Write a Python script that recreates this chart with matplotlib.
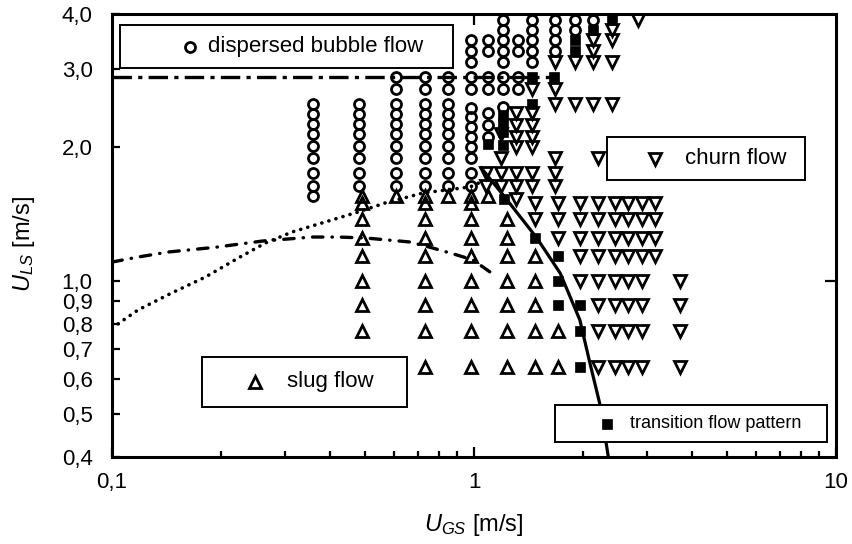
"""Flow pattern map: U_LS versus U_GS with regime transition lines."""
import matplotlib
matplotlib.use("Agg")
import matplotlib.pyplot as plt
from matplotlib.patches import Rectangle
from matplotlib.ticker import FixedLocator, NullFormatter, NullLocator

plt.rcParams["font.family"] = ["Liberation Sans", "DejaVu Sans"]
plt.rcParams["mathtext.fontset"] = "custom"
plt.rcParams["mathtext.rm"] = "Liberation Sans"
plt.rcParams["mathtext.it"] = "Liberation Sans:italic"
plt.rcParams["lines.scale_dashes"] = False

# measured points, grouped by gas velocity U_GS -> list of U_LS [m/s]
BUBBLE = {
    0.36: [2.50, 2.38, 2.26, 2.14, 2.01, 1.89, 1.75, 1.64, 1.55],
    0.48: [2.50, 2.38, 2.26, 2.14, 2.01, 1.89, 1.75, 1.64],
    0.61: [2.88, 2.71, 2.50, 2.38, 2.26, 2.14, 2.01, 1.89, 1.75, 1.64],
    0.73: [2.88, 2.71, 2.50, 2.38, 2.26, 2.14, 2.01, 1.89, 1.75, 1.64],
    0.85: [2.88, 2.71, 2.50, 2.38, 2.26, 2.14, 2.01, 1.89, 1.75, 1.64],
    0.98: [3.49, 3.30, 3.12, 2.88, 2.71, 2.46, 2.34, 2.22, 2.11, 2.00, 1.89, 1.75, 1.64],
    1.09: [3.49, 3.30, 2.88, 2.71, 2.39, 2.25, 2.11],
    1.20: [3.88, 3.68, 3.49, 3.30, 3.12, 2.88, 2.71, 2.47],
    1.32: [3.49, 3.30, 2.88, 2.71],
    1.45: [3.88, 3.68, 3.49, 3.30, 3.12],
    1.67: [3.88, 3.68, 3.49, 3.30],
    1.90: [3.88, 3.68],
    2.13: [3.88],
}

SLUG = {
    0.49: [1.55, 1.50, 1.38, 1.25, 1.14, 1.00, 0.88, 0.77],
    0.61: [1.55],
    0.73: [1.55, 1.50, 1.38, 1.25, 1.14, 1.00, 0.88, 0.77, 0.64],
    0.85: [1.55],
    0.98: [1.55, 1.50, 1.38, 1.25, 1.14, 1.00, 0.88, 0.77, 0.64],
    1.09: [1.55],
    1.23: [1.38, 1.25, 1.14, 1.00, 0.88, 0.77, 0.64],
    1.47: [1.14, 1.00, 0.88, 0.77, 0.64],
    1.71: [0.77, 0.64],
}

CHURN = {
    1.08: [1.75, 1.64],
    1.19: [2.14, 1.89, 1.75, 1.64],
    1.31: [2.39, 2.25, 2.11, 2.00, 1.75, 1.64, 1.53],
    1.45: [2.71, 2.39, 2.25, 2.11, 2.00, 1.75, 1.64],
    1.47: [1.50, 1.38],
    1.67: [3.12, 2.71, 2.50, 1.89, 1.75, 1.64],
    1.71: [1.50, 1.38, 1.25],
    1.90: [3.12, 2.50],
    1.96: [1.50, 1.38, 1.25, 1.14, 1.00],
    2.13: [3.49, 3.30, 3.12, 2.50],
    2.20: [1.89, 1.50, 1.38, 1.25, 1.14, 1.00, 0.88, 0.77, 0.64],
    2.40: [3.68, 3.49, 3.12, 2.50],
    2.45: [1.50, 1.38, 1.25, 1.14, 1.00, 0.88, 0.77, 0.64],
    2.66: [1.50, 1.38, 1.25, 1.14, 1.00, 0.88, 0.77, 0.64],
    2.84: [3.88],
    2.91: [1.50, 1.38, 1.25, 1.14, 1.00, 0.88, 0.77, 0.64],
    3.16: [1.50, 1.38, 1.25, 1.14],
    3.71: [1.00, 0.88, 0.77, 0.64],
}

TRANSITION = {
    1.09: [2.04],
    1.20: [2.37, 2.27, 2.17, 2.03],
    1.21: [1.53],
    1.45: [2.88, 2.50],
    1.66: [2.88],
    1.47: [1.25],
    1.71: [1.14, 1.00, 0.88],
    1.96: [0.88, 0.77, 0.64],
    1.90: [3.49, 3.30],
    2.13: [3.68],
    2.40: [3.88],
}

# transition boundaries
BUBBLE_LIMIT_X = [0.1, 1.68]
BUBBLE_LIMIT_Y = [2.88, 2.88]

CHURN_X = [1.04, 1.22, 1.49, 1.73, 1.96, 2.09, 2.23, 2.35]
CHURN_Y = [1.81, 1.54, 1.25, 1.04, 0.816, 0.652, 0.524, 0.40]

DOTTED_X = [0.1, 0.118, 0.146, 0.181, 0.223, 0.265, 0.314, 0.388, 0.478, 0.568, 0.723, 0.975, 1.06]
DOTTED_Y = [0.782, 0.859, 0.938, 1.019, 1.125, 1.216, 1.288, 1.357, 1.429, 1.498, 1.578, 1.628, 1.68]

DASHDOT_X = [0.1, 0.118, 0.143, 0.193, 0.26, 0.357, 0.421, 0.5, 0.666, 0.77, 0.898, 0.994, 1.157]
DASHDOT_Y = [1.102, 1.131, 1.161, 1.19, 1.229, 1.255, 1.255, 1.249, 1.223, 1.185, 1.143, 1.114, 1.02]

Y_TICKS = [0.4, 0.5, 0.6, 0.7, 0.8, 0.9, 1.0, 2.0, 3.0, 4.0]
Y_LABELS = ["0,4", "0,5", "0,6", "0,7", "0,8", "0,9", "1,0", "2,0", "3,0", "4,0"]
X_TICKS = [0.1, 1, 10]
X_LABELS = ["0,1", "1", "10"]
X_MINOR = [0.2, 0.3, 0.4, 0.5, 0.6, 0.7, 0.8, 0.9, 2, 3, 4, 5, 6, 7, 8, 9]

CIRCLE = dict(marker="o", ms=7.2, mfc="none", mec="k", mew=2.0)
UP = dict(marker="^", ms=8.0, mfc="none", mec="k", mew=2.0)
DOWN = dict(marker="v", ms=8.0, mfc="none", mec="k", mew=2.0)
SQUARE = dict(marker="s", ms=7.2, mfc="k", mec="k", mew=0.5)


def plot_columns(ax, columns, style):
    xs = [x for x, ys in columns.items() for _ in ys]
    ys = [y for col in columns.values() for y in col]
    ax.plot(xs, ys, linestyle="none", zorder=3, **style)


def legend_box(ax, x0, y0, x1, y1, mx, tx, label, style, size):
    ax.add_patch(Rectangle((x0, y0), x1 - x0, y1 - y0, transform=ax.transAxes,
                           fc="white", ec="black", lw=1.4, zorder=5))
    yc = 0.5 * (y0 + y1)
    ax.plot([mx], [yc], transform=ax.transAxes, linestyle="none", zorder=6,
            clip_on=False, **style)
    ax.text(tx, yc, label, transform=ax.transAxes, va="center", ha="left",
            fontsize=size, zorder=6)


fig = plt.figure(figsize=(8.53, 5.44), dpi=100)
ax = fig.add_axes([0.1313, 0.1599, 0.8488, 0.8143])
ax.set_xscale("log")
ax.set_yscale("log")
ax.set_xlim(0.1, 10)
ax.set_ylim(0.4, 4.0)

ax.plot(BUBBLE_LIMIT_X, BUBBLE_LIMIT_Y, color="k", lw=2.4,
        dashes=(14, 4.5, 3, 4.5), zorder=2)
ax.plot(CHURN_X, CHURN_Y, color="k", lw=2.3, solid_capstyle="butt", zorder=2)
ax.plot(DOTTED_X, DOTTED_Y, color="k", lw=2.6, dashes=(0.1, 5.2),
        dash_capstyle="round", zorder=2)
ax.plot(DASHDOT_X, DASHDOT_Y, color="k", lw=2.4, dashes=(7.5, 6.5, 0.3, 6.5),
        dash_capstyle="round", zorder=2)

plot_columns(ax, BUBBLE, CIRCLE)
plot_columns(ax, SLUG, UP)
plot_columns(ax, CHURN, DOWN)
plot_columns(ax, TRANSITION, SQUARE)

legend_box(ax, 0.011, 0.878, 0.471, 0.975, 0.108, 0.132, "dispersed bubble flow", CIRCLE, 16)
legend_box(ax, 0.684, 0.625, 0.957, 0.722, 0.750, 0.791, "churn flow", DOWN, 16)
legend_box(ax, 0.124, 0.113, 0.408, 0.226, 0.198, 0.242, "slug flow", UP, 16)
legend_box(ax, 0.612, 0.034, 0.988, 0.117, 0.684, 0.716, "transition flow pattern", SQUARE, 13)

# axes frame and ticks
for sp in ax.spines.values():
    sp.set_linewidth(2.2)
ax.set_yticks(Y_TICKS, Y_LABELS)
ax.yaxis.set_minor_locator(NullLocator())
ax.set_xticks(X_TICKS, X_LABELS)
ax.xaxis.set_minor_locator(FixedLocator(X_MINOR))
ax.xaxis.set_minor_formatter(NullFormatter())
ax.tick_params(axis="y", which="major", direction="in", length=6, width=1.6,
               labelsize=16, pad=14)
ax.tick_params(axis="x", which="major", direction="in", length=7.5, width=1.6,
               labelsize=16, pad=11)
ax.tick_params(axis="x", which="minor", direction="in", length=4.5, width=1.6)

top = ax.secondary_xaxis("top")
top.set_xticks([1.0])
top.xaxis.set_minor_locator(NullLocator())
top.tick_params(direction="in", length=8, width=1.6, labeltop=False)
top.spines["top"].set_visible(False)

right = ax.secondary_yaxis("right")
right.set_yticks([1.0])
right.yaxis.set_minor_locator(NullLocator())
right.tick_params(direction="in", length=8, width=1.6, labelright=False)
right.spines["right"].set_visible(False)

ax.set_xlabel(r"$U_{GS}$ [m/s]", fontsize=17)
ax.xaxis.set_label_coords(0.5, -0.125)
ax.set_ylabel(r"$U_{LS}$ [m/s]", fontsize=17)
ax.yaxis.set_label_coords(-0.104, 0.48)

fig.savefig("out.png", dpi=100)
